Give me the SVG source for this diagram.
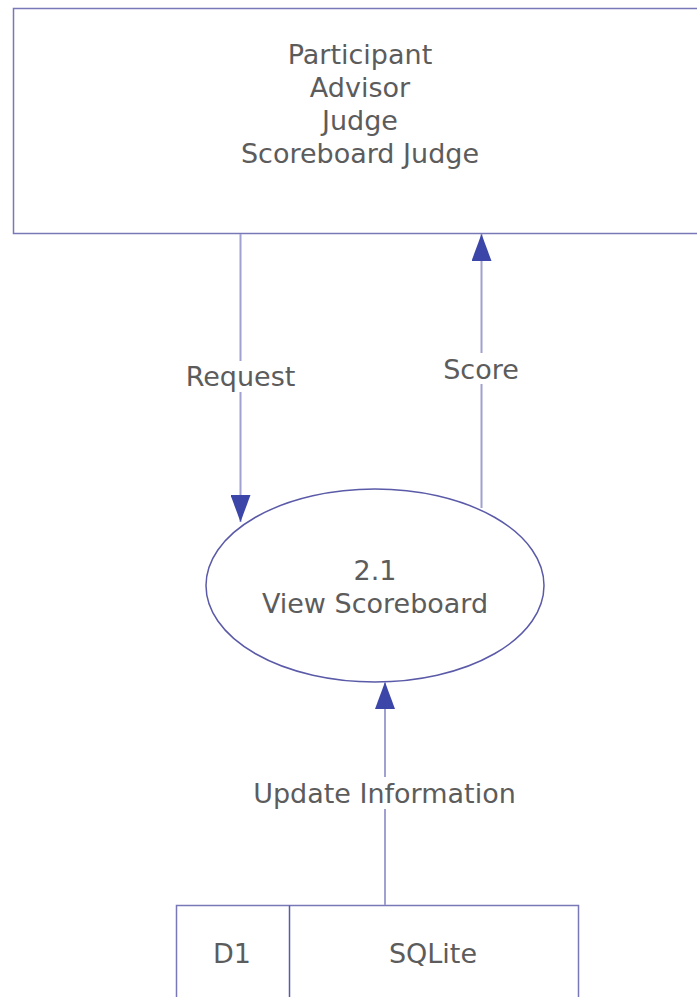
<svg xmlns="http://www.w3.org/2000/svg" width="697" height="997" viewBox="0 0 697 997">
<style>
  text { font-family: "DejaVu Sans", Verdana, sans-serif; font-size: 27px; fill: #5c5c5c; text-anchor: middle; }
  .box { fill: #ffffff; stroke: #7878b8; stroke-width: 1.5; }
  .flow { fill: none; stroke: #a0a0d2; stroke-width: 2; }
  .lblbg { fill: #ffffff; stroke: none; }
</style>
<defs>
  <marker id="arrow" markerUnits="userSpaceOnUse" markerWidth="28" markerHeight="20" refX="27" refY="10" orient="auto">
    <path d="M0,0 L27,10 L0,20 z" fill="#3c46a8"/>
  </marker>
</defs>
<rect width="697" height="997" fill="#ffffff"/>

<g id="external-entity">
  <rect class="box" x="13.5" y="8.5" width="700" height="225"/>
  <text x="360" y="64">Participant</text>
  <text x="360" y="97">Advisor</text>
  <text x="360" y="130">Judge</text>
  <text x="360" y="163">Scoreboard Judge</text>
</g>

<g id="process-2-1">
  <ellipse cx="375" cy="585.5" rx="169" ry="96.5" fill="#ffffff" stroke="#5a5aa8" stroke-width="1.5"/>
  <text x="375" y="580">2.1</text>
  <text x="375" y="613">View Scoreboard</text>
</g>

<g id="data-store-d1">
  <path class="box" d="M176.5,1000 L176.5,905.5 L578.5,905.5 L578.5,1000"/>
  <line x1="289.5" y1="905.5" x2="289.5" y2="1000" stroke="#5a5aa8" stroke-width="1.5"/>
  <text x="232" y="963">D1</text>
  <text x="433" y="963">SQLite</text>
</g>

<g id="connectors">
  <line class="flow" x1="240.5" y1="234" x2="240.5" y2="522" marker-end="url(#arrow)"/>
  <rect class="lblbg" x="182" y="361" width="117" height="31"/>
  <text x="240.5" y="386">Request</text>

  <line class="flow" x1="481.5" y1="508" x2="481.5" y2="234" marker-end="url(#arrow)"/>
  <rect class="lblbg" x="441" y="353" width="81" height="31"/>
  <text x="481" y="379">Score</text>

  <line class="flow" x1="385" y1="905" x2="385" y2="682" marker-end="url(#arrow)"/>
  <rect class="lblbg" x="248" y="777" width="274" height="32"/>
  <text x="384.5" y="803">Update Information</text>
</g>
</svg>
